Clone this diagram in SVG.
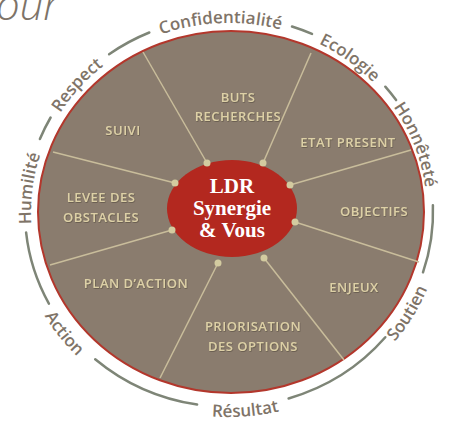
<svg xmlns="http://www.w3.org/2000/svg" width="456" height="423" viewBox="0 0 456 423">
<defs>
<style>
.ring{fill:none;stroke:#7e8577;stroke-width:2.5;stroke-linecap:round}
.rl{font-family:"Open Sans","Liberation Sans",sans-serif;font-weight:600;font-size:17px;fill:#7f7468}
.seg{font-family:"Open Sans","Liberation Sans",sans-serif;font-weight:600;font-size:13px;fill:#ddd0a6;text-anchor:middle;letter-spacing:0.5px}
.spoke{stroke:#c9bd9b;stroke-width:1.5;fill:none}
.dot{fill:#d3cba0}
.ctr{font-family:"Liberation Serif","DejaVu Serif",serif;font-weight:bold;font-size:21px;fill:#ffffff;text-anchor:middle}
</style>
<filter id="sh" x="-10%" y="-20%" width="120%" height="160%">
<feDropShadow dx="0.6" dy="0.8" stdDeviation="0.4" flood-color="#4a3f35" flood-opacity="0.6"/>
</filter>
<path id="p-conf" d="M101.7 67.2 A198 189 0 0 1 342.6 57.2"/>
<path id="p-eco" d="M280.2 29.4 A198 189 0 0 1 398.7 114.7"/>
<path id="p-hon" d="M369 78.4 A198 189 0 0 1 426.5 225.2"/>
<path id="p-res" d="M42.9 147.4 A198 189 0 0 1 136 45.1"/>
<path id="p-hum" d="M37.7 260.9 A198 189 0 0 1 55.8 120.4"/>
<path id="p-sou" d="M360.8 373.5 A214 205 0 0 0 440.4 244.1"/>
<path id="p-resu" d="M173.6 410 A214 205 0 0 0 316 399.3"/>
<path id="p-act" d="M25.5 275.3 A214 205 0 0 0 112.5 384"/>
</defs>

<text x="-4" y="20" font-family="Open Sans, Liberation Sans, sans-serif" font-style="italic" font-weight="300" font-size="42" fill="#7d7368">our</text>

<g id="ring">
<path class="ring" d="M109.1 54.2 A204 195 0 0 1 149.3 32.5"/>
<path class="ring" d="M292 26.5 A204 195 0 0 1 312 33.9"/>
<path class="ring" d="M385.3 86.7 A204 195 0 0 1 396.1 100.1"/>
<path class="ring" d="M432.9 205.2 A204 195 0 0 1 423 272.3"/>
<path class="ring" d="M385.3 337.3 A204 195 0 0 1 288.6 398.5"/>
<path class="ring" d="M197.1 404.6 A204 195 0 0 1 95.2 359.2"/>
<path class="ring" d="M48.9 303.6 A204 195 0 0 1 26.1 232.4"/>
<path class="ring" d="M39.9 139 A204 195 0 0 1 50.6 117.5"/>
</g>

<g id="ring-labels">
<text class="rl"><textPath href="#p-conf" startOffset="50%" text-anchor="middle">Confidentialité</textPath></text>
<text class="rl"><textPath href="#p-eco" startOffset="50%" text-anchor="middle">Ecologie</textPath></text>
<text class="rl"><textPath href="#p-hon" startOffset="50%" text-anchor="middle">Honnêteté</textPath></text>
<text class="rl"><textPath href="#p-sou" startOffset="50%" text-anchor="middle">Soutien</textPath></text>
<text class="rl"><textPath href="#p-resu" startOffset="50%" text-anchor="middle">Résultat</textPath></text>
<text class="rl"><textPath href="#p-act" startOffset="50%" text-anchor="middle">Action</textPath></text>
<text class="rl"><textPath href="#p-hum" startOffset="50%" text-anchor="middle">Humilité</textPath></text>
<text class="rl"><textPath href="#p-res" startOffset="50%" text-anchor="middle">Respect</textPath></text>
</g>

<g id="disk">
<ellipse cx="231" cy="212" rx="193" ry="181" fill="#8a7c6e" stroke="#b3372c" stroke-width="2"/>
</g>

<g id="connectors">
<line class="spoke" x1="207" y1="163" x2="143" y2="52"/>
<line class="spoke" x1="263" y1="163" x2="311" y2="53"/>
<line class="spoke" x1="175" y1="183" x2="53" y2="152"/>
<line class="spoke" x1="290" y1="185" x2="411" y2="150"/>
<line class="spoke" x1="172" y1="230" x2="50" y2="265"/>
<line class="spoke" x1="295" y1="222" x2="419" y2="262"/>
<line class="spoke" x1="218" y1="263" x2="160" y2="378"/>
<line class="spoke" x1="264" y1="258" x2="344" y2="360"/>
</g>

<g id="center">
<ellipse cx="232" cy="208.5" rx="65" ry="48.5" fill="#b3281f"/>
<text class="ctr" x="232" y="193">LDR</text>
<text class="ctr" x="232" y="215">Synergie</text>
<text class="ctr" x="232" y="237">&amp; Vous</text>
</g>

<g id="dots">
<circle class="dot" cx="207" cy="163" r="3.5"/>
<circle class="dot" cx="263" cy="163" r="3.5"/>
<circle class="dot" cx="175" cy="183" r="3.5"/>
<circle class="dot" cx="290" cy="185" r="3.5"/>
<circle class="dot" cx="172" cy="230" r="3.5"/>
<circle class="dot" cx="295" cy="222" r="3.5"/>
<circle class="dot" cx="218" cy="263" r="3.5"/>
<circle class="dot" cx="264" cy="258" r="3.5"/>
</g>

<g id="buts" filter="url(#sh)">
<text class="seg" x="238" y="102">BUTS</text>
<text class="seg" x="238" y="121">RECHERCHES</text>
</g>
<g id="etat" filter="url(#sh)">
<text class="seg" x="348" y="147">ETAT PRESENT</text>
</g>
<g id="objectifs" filter="url(#sh)">
<text class="seg" x="374" y="216">OBJECTIFS</text>
</g>
<g id="enjeux" filter="url(#sh)">
<text class="seg" x="354" y="292">ENJEUX</text>
</g>
<g id="priorisation" filter="url(#sh)">
<text class="seg" x="253" y="331">PRIORISATION</text>
<text class="seg" x="253" y="351">DES OPTIONS</text>
</g>
<g id="plan" filter="url(#sh)">
<text class="seg" x="136" y="288">PLAN D’ACTION</text>
</g>
<g id="levee" filter="url(#sh)">
<text class="seg" x="101" y="202">LEVEE DES</text>
<text class="seg" x="101" y="222">OBSTACLES</text>
</g>
<g id="suivi" filter="url(#sh)">
<text class="seg" x="123" y="135">SUIVI</text>
</g>
</svg>
